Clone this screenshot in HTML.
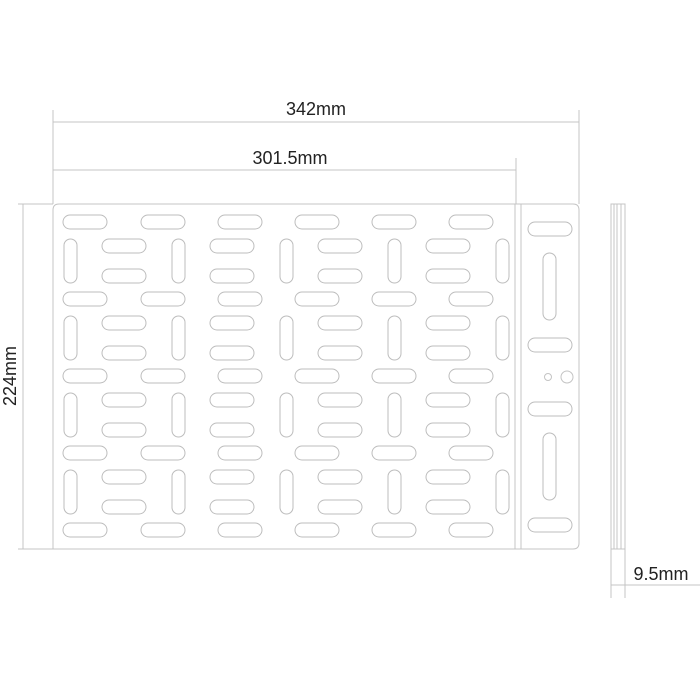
<!DOCTYPE html><html><head><style>body{margin:0;background:#fff}svg{display:block}</style></head><body>
<svg width="700" height="700" xmlns="http://www.w3.org/2000/svg" font-family="Liberation Sans, sans-serif">
<defs>
<rect id="h" width="44" height="14" rx="7" fill="none" stroke="#bdbdbd" stroke-width="1"/>
<rect id="v" width="13" height="44" rx="6.5" fill="none" stroke="#bdbdbd" stroke-width="1"/>
<g id="A"><use href="#h" x="63"/><use href="#h" x="141"/><use href="#h" x="218"/><use href="#h" x="295"/><use href="#h" x="372"/><use href="#h" x="449"/></g>
<g id="B"><use href="#v" x="64"/><use href="#v" x="172"/><use href="#v" x="280"/><use href="#v" x="388"/><use href="#v" x="496"/>
<use href="#h" x="102"/><use href="#h" x="210"/><use href="#h" x="318"/><use href="#h" x="426"/>
<use href="#h" x="102" y="30"/><use href="#h" x="210" y="30"/><use href="#h" x="318" y="30"/><use href="#h" x="426" y="30"/></g>
</defs>
<g stroke="#c4c4c4" fill="none" stroke-width="1">
<line x1="53" y1="122" x2="579" y2="122"/><line x1="53" y1="170" x2="516" y2="170"/>
<line x1="53" y1="110" x2="53" y2="204"/><line x1="579" y1="110" x2="579" y2="204"/><line x1="516" y1="158" x2="516" y2="204"/>
<line x1="23" y1="204" x2="23" y2="549"/><line x1="18" y1="204" x2="53" y2="204"/><line x1="18" y1="549" x2="53" y2="549"/>
<path d="M59 204 H573 Q579 204 579 210 V543 Q579 549 573 549 H53 V210 Q53 204 59 204 Z"/>
<line x1="515" y1="204" x2="515" y2="549"/><line x1="521" y1="204" x2="521" y2="549"/>
<rect x="611" y="204" width="14" height="345"/><line x1="614" y1="204" x2="614" y2="549"/><line x1="617" y1="204" x2="617" y2="549"/><line x1="621" y1="204" x2="621" y2="549"/>
<line x1="611" y1="549" x2="611" y2="598"/><line x1="625" y1="549" x2="625" y2="598"/><line x1="611" y1="585" x2="700" y2="585"/>
<circle cx="548" cy="377" r="3.5"/><circle cx="567" cy="377" r="6"/>
</g>
<use href="#A" y="215"/><use href="#A" y="292"/><use href="#A" y="369"/><use href="#A" y="446"/><use href="#A" y="523"/>
<use href="#B" y="239"/><use href="#B" y="316"/><use href="#B" y="393"/><use href="#B" y="470"/>
<use href="#h" x="528" y="222"/><use href="#h" x="528" y="338"/><use href="#h" x="528" y="402"/><use href="#h" x="528" y="518"/>
<rect x="543" y="253" width="13" height="67" rx="6.5" fill="none" stroke="#bdbdbd"/>
<rect x="543" y="433" width="13" height="67" rx="6.5" fill="none" stroke="#bdbdbd"/>
<g fill="#222" font-size="18">
<text x="316" y="115" text-anchor="middle">342mm</text>
<text x="290" y="164" text-anchor="middle">301.5mm</text>
<text x="661" y="580" text-anchor="middle">9.5mm</text>
<text transform="translate(16 376) rotate(-90)" text-anchor="middle">224mm</text>
</g>
</svg></body></html>
